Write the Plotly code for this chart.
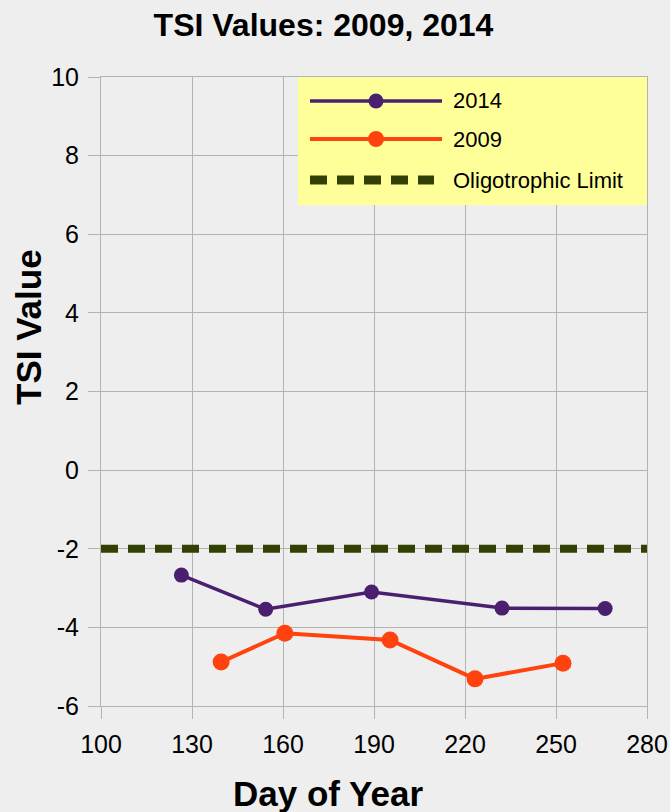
import plotly.graph_objects as go

# ---- data ----
days_2014 = [126.5, 154.3, 189.2, 232.2, 266.2]
tsi_2014 = [-2.67, -3.54, -3.10, -3.51, -3.52]
days_2009 = [139.6, 160.6, 195.3, 223.3, 252.3]
tsi_2009 = [-4.88, -4.15, -4.32, -5.31, -4.91]
limit_days = [100, 280]
limit_tsi = [-2, -2]
x_ticks = [100, 130, 160, 190, 220, 250, 280]
y_ticks = [-6, -4, -2, 0, 2, 4, 6, 8, 10]
legend_names = ["2014", "2009", "Oligotrophic Limit"]

PURPLE = "#4b1f6f"
ORANGE = "#ff420e"
OLIVE = "#334003"
GRID = "#b3b3b3"
BG = "#eeeeee"
FONT = "Liberation Sans, Arial, sans-serif"

W, H = 670, 812
L, R, T, B = 101, 23, 77, 106
PW, PH = W - L - R, H - T - B


def px(x):
    return (x - L) / PW


def py(y):
    return (H - B - y) / PH


fig = go.Figure()
fig.add_trace(go.Scatter(x=limit_days, y=limit_tsi, mode="lines",
                         line=dict(color=OLIVE, width=8, dash="17px,10px"),
                         name=legend_names[2], showlegend=False))
fig.add_trace(go.Scatter(x=days_2014, y=tsi_2014, mode="lines+markers",
                         line=dict(color=PURPLE, width=3.5),
                         marker=dict(color=PURPLE, size=15),
                         name=legend_names[0], showlegend=False))
fig.add_trace(go.Scatter(x=days_2009, y=tsi_2009, mode="lines+markers",
                         line=dict(color=ORANGE, width=4),
                         marker=dict(color=ORANGE, size=17),
                         name=legend_names[1], showlegend=False))

# ---- custom legend box ----
shapes = [
    dict(type="rect", xref="paper", yref="paper", x0=px(298), x1=px(647),
         y0=py(205), y1=py(77), fillcolor="#ffff99", line=dict(width=0), layer="above"),
    dict(type="line", xref="paper", yref="paper", x0=px(310), x1=px(442),
         y0=py(101), y1=py(101), line=dict(color=PURPLE, width=3.5), layer="above"),
    dict(type="circle", xref="paper", yref="paper", x0=px(368.5), x1=px(383.5),
         y0=py(108.5), y1=py(93.5), fillcolor=PURPLE, line=dict(width=0), layer="above"),
    dict(type="line", xref="paper", yref="paper", x0=px(310), x1=px(442),
         y0=py(139), y1=py(139), line=dict(color=ORANGE, width=4), layer="above"),
    dict(type="circle", xref="paper", yref="paper", x0=px(368), x1=px(384),
         y0=py(147), y1=py(131), fillcolor=ORANGE, line=dict(width=0), layer="above"),
    dict(type="line", xref="paper", yref="paper", x0=px(310), x1=px(434),
         y0=py(180), y1=py(180), line=dict(color=OLIVE, width=9, dash="17px,10px"),
         layer="above"),
]
annotations = []
for name, yy in zip(legend_names, [101, 139, 180]):
    annotations.append(dict(text=name, xref="paper", yref="paper", x=px(451), y=py(yy),
                            xanchor="left", yanchor="middle", showarrow=False,
                            font=dict(size=22, color="black", family=FONT)))

annotations.append(dict(text="<b>TSI Value</b>", xref="paper", yref="paper",
                        x=px(28), y=py(327), textangle=-90, xanchor="center",
                        yanchor="middle", showarrow=False,
                        font=dict(size=35, color="black", family=FONT)))
annotations.append(dict(text="<b>Day of Year</b>", xref="paper", yref="paper",
                        x=px(328), y=py(793), xanchor="center",
                        yanchor="middle", showarrow=False,
                        font=dict(size=35, color="black", family=FONT)))

fig.update_layout(
    width=W, height=H,
    margin=dict(l=L, r=R, t=T, b=B, autoexpand=False),
    paper_bgcolor=BG, plot_bgcolor=BG,
    font=dict(family=FONT, color="black"),
    title=dict(text="<b>TSI Values: 2009, 2014</b>", xref="container", yref="container",
               x=323.5 / W, y=1 - 25 / H, xanchor="center", yanchor="middle",
               font=dict(size=32, color="black", family=FONT)),
    shapes=shapes, annotations=annotations,
    showlegend=False,
)
fig.update_xaxes(range=[100, 280], tickvals=x_ticks, ticktext=[str(v) for v in x_ticks],
                 showgrid=True, gridcolor=GRID, gridwidth=1, zeroline=False,
                 showline=True, linecolor=GRID, linewidth=1, mirror=True,
                 ticks="outside", ticklen=12, tickcolor=GRID, ticklabelstandoff=4,
                 automargin=False,
                 tickfont=dict(size=25, color="black", family=FONT))
fig.update_yaxes(range=[-6, 10], tickvals=y_ticks, ticktext=[str(v) for v in y_ticks],
                 showgrid=True, gridcolor=GRID, gridwidth=1, zeroline=False,
                 showline=True, linecolor=GRID, linewidth=1, mirror=True,
                 ticks="outside", ticklen=12, tickcolor=GRID, ticklabelstandoff=4,
                 automargin=False,
                 tickfont=dict(size=25, color="black", family=FONT))

fig.write_html(
    "out.html",
    config={"displayModeBar": False},
    post_script="document.body.style.margin='0';document.body.style.background='#eeeeee';",
)
